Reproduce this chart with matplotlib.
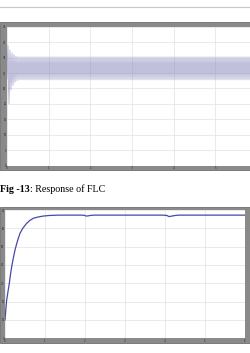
import matplotlib
matplotlib.use("agg")
from matplotlib import pyplot as plt
from matplotlib.patches import Rectangle
from matplotlib.lines import Line2D
import numpy as np

# top chart: alternating peak values (grid units), transient then steady band
transient_peaks = [5.6, 7.8, 4.0, 7.5, 4.9, 7.3, 5.2, 7.2, 5.4, 7.1, 5.5]
steady_hi, steady_lo = 7.06, 5.55
n_cycles = 120
top_yticklabels = ["0", "5", "10", "15", "20", "25", "30", "35", "40", "45"]
top_xticklabels = ["0", "1", "2", "3", "4", "5"]

# bottom chart: FLC step response (grid units)
flc_t = [0.0, 0.02, 0.042, 0.075, 0.108, 0.135, 0.167, 0.21, 0.25, 0.31, 0.375,
         0.45, 0.54, 0.62, 0.71, 0.83, 0.96, 1.1, 1.33, 1.9, 1.98, 2.03, 2.08,
         2.15, 2.25, 3.95, 4.05, 4.1, 4.15, 4.25, 4.35, 6.0]
flc_y = [1.0, 1.55, 2.09, 2.55, 3.0, 3.45, 3.9, 4.4, 4.82, 5.3, 5.73,
         6.02, 6.27, 6.43, 6.55, 6.62, 6.67, 6.70, 6.72, 6.72, 6.71, 6.67, 6.68,
         6.71, 6.72, 6.72, 6.70, 6.64, 6.66, 6.70, 6.72, 6.72]
bot_yticklabels = ["0", "10", "20", "30", "40", "50", "60", "70"]
bot_xticklabels = ["0", "1", "2", "3", "4", "5", "6"]

W, H = 251, 353
fig = plt.figure(figsize=(W / 100, H / 100), dpi=100)
fig.patch.set_facecolor("white")

def box(l, t, r, b):
    return [l / W, 1 - b / H, (r - l) / W, (b - t) / H]

# page rule at the top
fig.add_artist(Line2D([0, 1], [1 - 7 / H, 1 - 7 / H], color="#c8c8c8", lw=0.8))

# gray scope frames
for l, t, r, b in [(0, 22, 260, 169.5), (0, 207, 250, 343)]:
    fig.add_artist(Rectangle((l / W, 1 - b / H), (r - l) / W, (b - t) / H,
                             transform=fig.transFigure, facecolor="#8a8a8a",
                             edgecolor="#6e6e6e", lw=0.6, zorder=0))

def style(ax, xlabels, ylabels):
    ax.set_facecolor("white")
    ax.set_xticks(range(len(xlabels)))
    ax.set_xticklabels(xlabels)
    ax.set_yticks(range(len(ylabels)))
    ax.set_yticklabels(ylabels)
    ax.tick_params(labelsize=1.8, length=0, pad=0.4, labelcolor="#222222")
    ax.grid(True, color="#e2e2e2", lw=0.5)
    for s in ax.spines.values():
        s.set_visible(False)

# top chart
ax1 = fig.add_axes(box(7, 26.7, 257, 165.7))
peaks = transient_peaks + [steady_hi, steady_lo] * n_cycles
t = np.linspace(0, 6, len(peaks))
ax1.plot(t, peaks, color="#9494c2", lw=0.42)
ax1.set_xlim(0, 6)
ax1.set_ylim(0, 9)
style(ax1, top_xticklabels, top_yticklabels)
ax1.set_xticks(range(7), minor=True)
ax1.grid(True, which="minor", axis="x", color="#e2e2e2", lw=0.5)

# caption
cap = fig.text(0.0, 1 - 192.5 / H, "Fig -13", fontsize=7.2, fontweight="bold",
               family="Liberation Serif", va="baseline", ha="left")
fig.canvas.draw()
bb = cap.get_window_extent()
fig.text(bb.x1 / W, 1 - 192.5 / H, ": Response of FLC", fontsize=7.2,
         family="Liberation Serif", va="baseline", ha="left")

# bottom chart
ax2 = fig.add_axes(box(5, 210, 245, 338.3))
ax2.plot(flc_t, flc_y, color="#4848a8", lw=0.9)
ax2.set_xlim(0, 6)
ax2.set_ylim(0, 7)
style(ax2, bot_xticklabels, bot_yticklabels)

fig.savefig("out.png", dpi=100)
